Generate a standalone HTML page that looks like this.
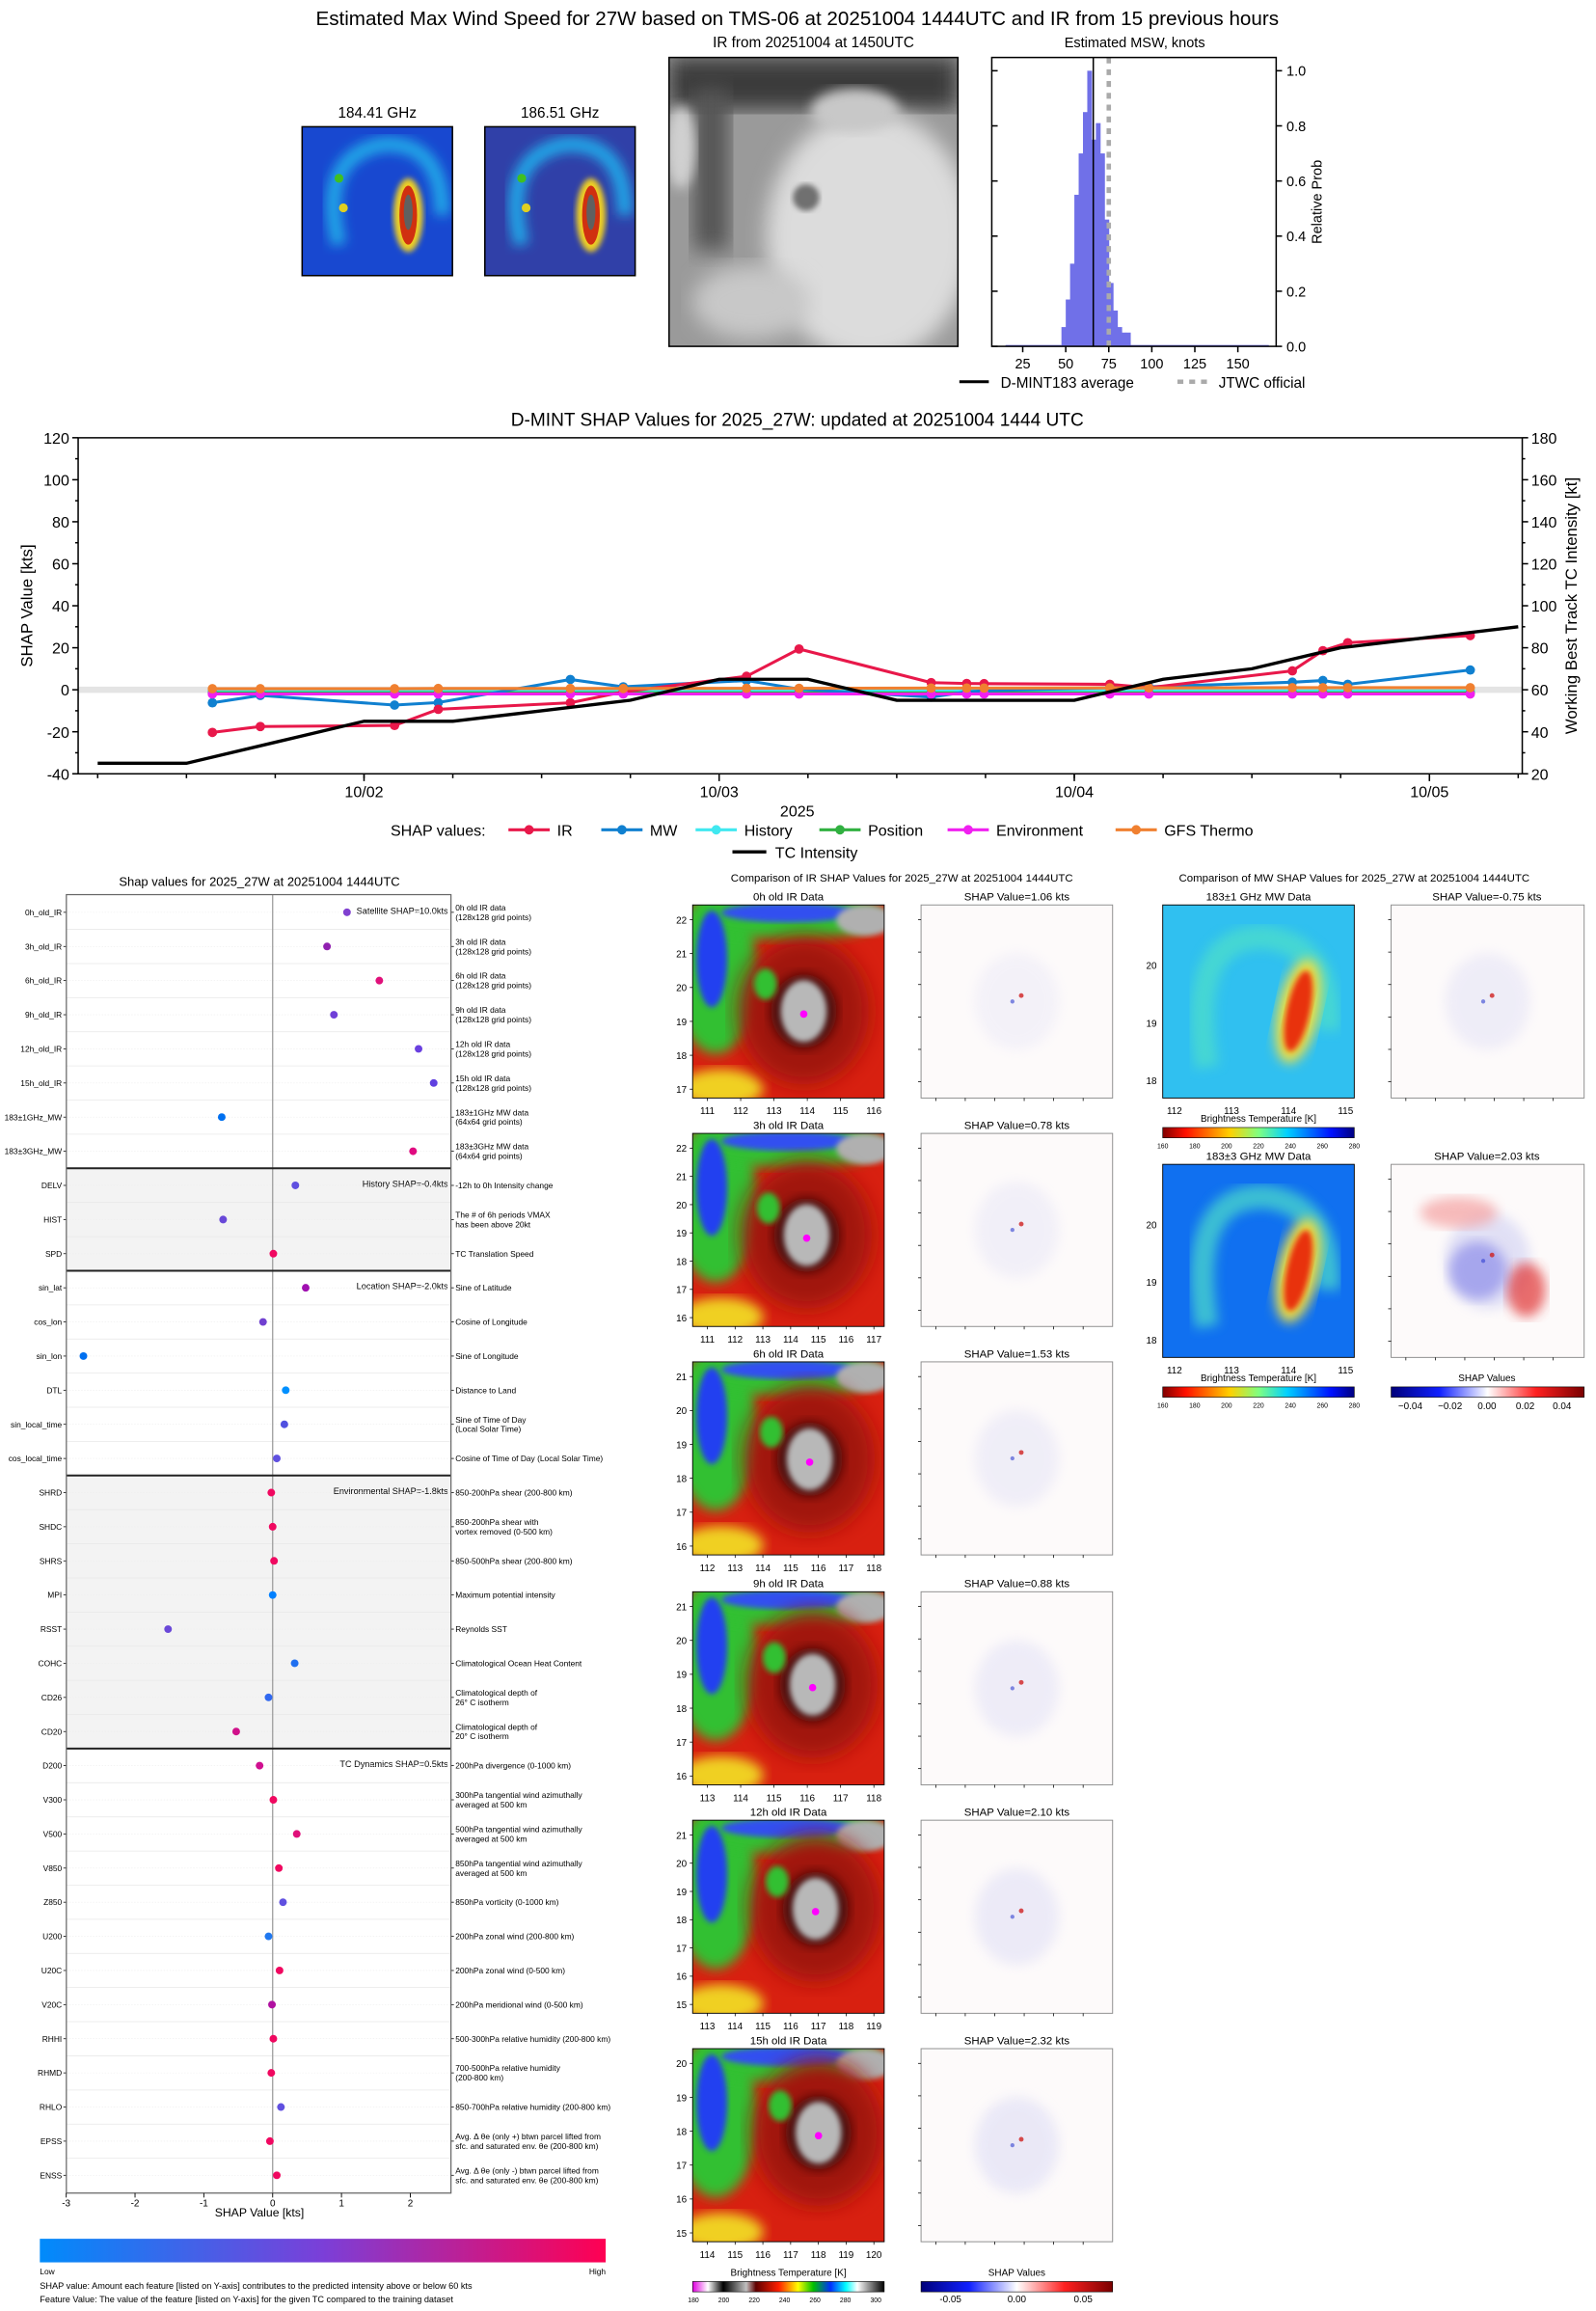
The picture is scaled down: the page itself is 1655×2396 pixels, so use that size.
<!DOCTYPE html>
<html><head><meta charset="utf-8"><style>
html,body{margin:0;padding:0;background:#fff}
svg{display:block;font-family:"Liberation Sans","DejaVu Sans",sans-serif}
</style></head><body>
<svg id="root" xmlns="http://www.w3.org/2000/svg" width="1655" height="2396" viewBox="0 0 1083 1568">
<defs>
<filter id="b2"><feGaussianBlur stdDeviation="2"/></filter>
<filter id="b4"><feGaussianBlur stdDeviation="4"/></filter>
<filter id="b7"><feGaussianBlur stdDeviation="7"/></filter>
<linearGradient id="shapcb" x1="0" x2="1"><stop offset="0" stop-color="#008bfb"/><stop offset="0.5" stop-color="#7b3fd8"/><stop offset="1" stop-color="#ff0052"/></linearGradient>
<linearGradient id="jetr" x1="0" x2="1"><stop offset="0" stop-color="#800000"/><stop offset="0.12" stop-color="#ff1000"/><stop offset="0.35" stop-color="#ffd000"/><stop offset="0.5" stop-color="#80ff80"/><stop offset="0.65" stop-color="#00d0ff"/><stop offset="0.88" stop-color="#0010ff"/><stop offset="1" stop-color="#000080"/></linearGradient>
<linearGradient id="bwr" x1="0" x2="1"><stop offset="0" stop-color="#00007a"/><stop offset="0.25" stop-color="#1020ff"/><stop offset="0.5" stop-color="#ffffff"/><stop offset="0.75" stop-color="#ff2020"/><stop offset="1" stop-color="#7a0000"/></linearGradient>
<linearGradient id="ircb" x1="0" x2="1"><stop offset="0" stop-color="#e000e0"/><stop offset="0.08" stop-color="#ffffff"/><stop offset="0.16" stop-color="#000000"/><stop offset="0.28" stop-color="#c0c0c0"/><stop offset="0.33" stop-color="#600000"/><stop offset="0.45" stop-color="#ff2000"/><stop offset="0.55" stop-color="#ffff00"/><stop offset="0.63" stop-color="#00c000"/><stop offset="0.72" stop-color="#0030ff"/><stop offset="0.8" stop-color="#00ffff"/><stop offset="0.86" stop-color="#ffffff"/><stop offset="1" stop-color="#000000"/></linearGradient>
</defs>
<g id="g"></g>
</svg>
<script>
// ---------- data ----------
const histBinStart = [47.5,50,52.5,55,57.5,60,62.5,65,67.5,70,72.5,75,77.5,80,82.5,85];
const histProb = [0.07,0.17,0.30,0.55,0.70,0.85,1.0,0.75,0.81,0.70,0.46,0.23,0.13,0.07,0.05,0.05];
const histMean = 66;
const jtwcOfficial = 75;
const histTicks = [25,50,75,100,125,150];
const histYTicks = [0,0.2,0.4,0.6,0.8,1.0];

const shapDays = [-0.427,-0.292,0.086,0.209,0.581,0.73,1.077,1.225,1.597,1.697,1.746,2.1,2.21,2.614,2.70,2.77,3.115];
const irShap = [-20.3,-17.5,-17,-9.3,-6.2,-1,6.4,19.4,3.4,3,2.9,2.6,1,9,18.6,22.4,25.8];
const mwShap = [-6.2,-2.7,-7.3,-6.1,4.9,1.4,4.4,0.3,-3.5,-1,-0.5,1,1.4,3.6,4.4,2.6,9.4];
const historyShap = [-0.5,-0.5,-0.5,-0.5,-0.5,-0.5,-0.5,-0.5,-0.5,-0.5,-0.5,-0.5,-0.5,-0.5,-0.5,-0.5,-0.5];
const positionShap = [-1.5,-1.5,-1.5,-1.5,-1.5,-1.5,-1.5,-1.5,-1.5,-1.5,-1.5,-1.5,-1.5,-1.5,-1.5,-1.5,-1.5];
const envShap = [-2,-2,-2,-2,-2,-2,-2,-2,-2,-2,-2,-2,-2,-2,-2,-2,-2];
const gfsShap = [0.5,0.5,0.5,0.6,0.6,0.6,0.7,0.7,0.8,0.8,0.8,0.9,0.9,1,1,1,1];
const intensityDays = [-0.75,-0.5,-0.25,0,0.25,0.5,0.75,1.0,1.25,1.5,1.75,2.0,2.25,2.5,2.75,3.0,3.25];
const intensityKt = [25,25,35,45,45,50,55,65,65,55,55,55,65,70,80,85,90];
const leftTicks = [-40,-20,0,20,40,60,80,100,120];
const rightTicks = [20,40,60,80,100,120,140,160,180];
const dateLabels = ['10/02','10/03','10/04','10/05'];

const featNames = ['0h_old_IR','3h_old_IR','6h_old_IR','9h_old_IR','12h_old_IR','15h_old_IR','183±1GHz_MW','183±3GHz_MW','DELV','HIST','SPD','sin_lat','cos_lon','sin_lon','DTL','sin_local_time','cos_local_time','SHRD','SHDC','SHRS','MPI','RSST','COHC','CD26','CD20','D200','V300','V500','V850','Z850','U200','U20C','V20C','RHHI','RHMD','RHLO','EPSS','ENSS'];
const featShap = [1.08,0.79,1.55,0.89,2.12,2.34,-0.74,2.04,0.33,-0.72,0.01,0.48,-0.14,-2.75,0.19,0.17,0.06,-0.02,0.0,0.02,0.0,-1.52,0.32,-0.06,-0.53,-0.19,0.01,0.35,0.09,0.15,-0.06,0.1,-0.01,0.01,-0.02,0.12,-0.04,0.06];
const featColor = ['#8040d0','#9020b0','#e0107a','#7040d8','#6a40e0','#6040e0','#0070f0','#e00a80','#6050e0','#6848d8','#f00860','#a010b0','#7040d0','#0070f0','#0090ff','#5050e0','#6050e0','#f00860','#f00860','#f00860','#0080ff','#6a48d8','#2070f0','#3068f0','#d0108a','#d01090','#f00860','#e0107a','#f00860','#6050e0','#2078f0','#f00860','#b010a0','#f00860','#f00860','#6050e0','#f00860','#f00860'];
const featDesc = ['0h old IR data|(128x128 grid points)','3h old IR data|(128x128 grid points)','6h old IR data|(128x128 grid points)','9h old IR data|(128x128 grid points)','12h old IR data|(128x128 grid points)','15h old IR data|(128x128 grid points)','183±1GHz MW data|(64x64 grid points)','183±3GHz MW data|(64x64 grid points)','-12h to 0h Intensity change','The # of 6h periods VMAX|has been above 20kt','TC Translation Speed','Sine of Latitude','Cosine of Longitude','Sine of Longitude','Distance to Land','Sine of Time of Day|(Local Solar Time)','Cosine of Time of Day (Local Solar Time)','850-200hPa shear (200-800 km)','850-200hPa shear with|vortex removed (0-500 km)','850-500hPa shear (200-800 km)','Maximum potential intensity','Reynolds SST','Climatological Ocean Heat Content','Climatological depth of|26° C isotherm','Climatological depth of|20° C isotherm','200hPa divergence (0-1000 km)','300hPa tangential wind azimuthally|averaged at 500 km','500hPa tangential wind azimuthally|averaged at 500 km','850hPa tangential wind azimuthally|averaged at 500 km','850hPa vorticity (0-1000 km)','200hPa zonal wind (200-800 km)','200hPa zonal wind (0-500 km)','200hPa meridional wind (0-500 km)','500-300hPa relative humidity (200-800 km)','700-500hPa relative humidity|(200-800 km)','850-700hPa relative humidity (200-800 km)','Avg. Δ θe (only +) btwn parcel lifted from|sfc. and saturated env. θe (200-800 km)','Avg. Δ θe (only -) btwn parcel lifted from|sfc. and saturated env. θe (200-800 km)'];
const sections = [{start:0,label:'Satellite SHAP=10.0kts',shade:false},{start:8,label:'History SHAP=-0.4kts',shade:true},{start:11,label:'Location SHAP=-2.0kts',shade:false},{start:17,label:'Environmental SHAP=-1.8kts',shade:true},{start:25,label:'TC Dynamics SHAP=0.5kts',shade:false}];
const dotTicks = [-3,-2,-1,0,1,2];

const irTitles = ['0h old IR Data','3h old IR Data','6h old IR Data','9h old IR Data','12h old IR Data','15h old IR Data'];
const irShapVals = ['1.06','0.78','1.53','0.88','2.10','2.32'];
const irYTickVals = [[22,21,20,19,18,17],[22,21,20,19,18,17,16],[21,20,19,18,17,16],[21,20,19,18,17,16],[21,20,19,18,17,16,15],[20,19,18,17,16,15]];
const irXTickVals = [[111,112,113,114,115,116],[111,112,113,114,115,116,117],[112,113,114,115,116,117,118],[113,114,115,116,117,118],[113,114,115,116,117,118,119],[114,115,116,117,118,119,120]];

// ---------- helpers ----------
const NS='http://www.w3.org/2000/svg';
const G=document.getElementById('g');
function el(tag,attrs,parent){const e=document.createElementNS(NS,tag);for(const k in attrs)e.setAttribute(k,attrs[k]);(parent||G).appendChild(e);return e;}
function txt(x,y,s,size,anchor,parent,extra){const t=el('text',Object.assign({x:x,y:y,'font-size':size,'text-anchor':anchor||'start',fill:'#000'},extra||{}),parent);t.textContent=s;return t;}
function grp(name,parent){const g=el('g',{},parent);return g;}

let t=txt(541,17,'Estimated Max Wind Speed for 27W based on TMS-06 at 20251004 1444UTC and IR from 15 previous hours',13.5,'middle');



function mwSmall(x,y,name,title,bg){
  const g=grp(name);
  txt(x+51,y-6,title,10,'middle',g);
  const cid='c'+name;const cp=el('clipPath',{id:cid},g);el('rect',{x:x,y:y,width:102,height:101},cp);
  const ig=el('g',{'clip-path':'url(#'+cid+')'},g);
  el('rect',{x:x,y:y,width:102,height:101,fill:bg},ig);
  el('path',{d:`M${x+25} ${y+80} Q${x+10} ${y+20} ${x+55} ${y+12} Q${x+95} ${y+10} ${x+95} ${y+60}`,fill:'none',stroke:'#20a8e8','stroke-width':10,filter:'url(#b4)'},ig);
  el('circle',{cx:x+25,cy:y+35,r:3,fill:'#40c020'},ig);
  el('circle',{cx:x+28,cy:y+55,r:3,fill:'#e0d020'},ig);
  el('ellipse',{cx:x+72,cy:y+60,rx:10,ry:25,fill:'#f0d020',filter:'url(#b2)'},ig);
  el('ellipse',{cx:x+72,cy:y+60,rx:6,ry:20,fill:'#d03010'},ig);
  el('ellipse',{cx:x+72,cy:y+58,rx:3,ry:12,fill:'#606060'},ig);
  el('rect',{x:x,y:y,width:102,height:101,fill:'none',stroke:'#000','stroke-width':1},g);
}
mwSmall(205,86,'mw-184-image','184.41 GHz','#1848d0');
mwSmall(329,86,'mw-186-image','186.51 GHz','#3040a8');

(function(){
  const g=grp('ir-gray-image');
  txt(552,32,'IR from 20251004 at 1450UTC',10,'middle',g);
  const cp=el('clipPath',{id:'cgray'},g);el('rect',{x:454,y:39,width:196,height:196},cp);
  const ig=el('g',{'clip-path':'url(#cgray)'},g);
  el('rect',{x:454,y:39,width:196,height:196,fill:'#9a9a9a'},ig);
  el('rect',{x:454,y:39,width:196,height:35,fill:'#3a3a3a',filter:'url(#b7)'},ig);
  el('rect',{x:470,y:60,width:25,height:110,fill:'#555',filter:'url(#b7)'},ig);
  el('ellipse',{cx:590,cy:160,rx:70,ry:85,fill:'#dcdcdc',filter:'url(#b7)'},ig);
  el('ellipse',{cx:580,cy:75,rx:30,ry:15,fill:'#c8c8c8',filter:'url(#b4)'},ig);
  el('ellipse',{cx:510,cy:205,rx:40,ry:25,fill:'#c8c8c8',filter:'url(#b7)'},ig);
  el('ellipse',{cx:462,cy:100,rx:10,ry:28,fill:'#d0d0d0',filter:'url(#b4)'},ig);
  el('ellipse',{cx:547,cy:134,rx:9,ry:9,fill:'#707070',filter:'url(#b2)'},ig);
  el('rect',{x:454,y:39,width:196,height:196,fill:'none',stroke:'#000','stroke-width':1},g);
})();

(function(){
  const g=grp('msw-histogram');
  const X=k=>694+(k-25)*1.168, Y=p=>235-p*187;
  txt(770,32,'Estimated MSW, knots',9.5,'middle',g);
  const b=el('rect',{x:X(15),y:Y(0.005),width:X(47.5)-X(15),height:Y(0)-Y(0.005),fill:'#7070e8'},g);
  
  
  for(let i=0;i<histBinStart.length;i++){
    const r=el('rect',{x:X(histBinStart[i]),y:Y(histProb[i]),width:X(histBinStart[i]+2.5)-X(histBinStart[i])+0.3,height:Y(0)-Y(histProb[i]),fill:'#7070e8'},g);
    
    
  }
  el('rect',{x:X(87.5),y:Y(0.005),width:X(168)-X(87.5),height:Y(0)-Y(0.005),fill:'#7070e8'},g);
  const m=el('line',{x1:X(histMean),x2:X(histMean),y1:39,y2:235,stroke:'#000','stroke-width':1},g);
  
  
  const j=el('line',{x1:X(jtwcOfficial),x2:X(jtwcOfficial),y1:39,y2:235,stroke:'#aaa','stroke-width':3,'stroke-dasharray':'4 4'},g);
  
  
  el('rect',{x:673,y:39,width:193,height:196,fill:'none',stroke:'#000','stroke-width':1},g);
  histTicks.forEach(k=>{el('line',{x1:X(k),x2:X(k),y1:235,y2:239,stroke:'#000'},g);txt(X(k),250,String(k),9.5,'middle',g);});
  histYTicks.forEach(p=>{el('line',{x1:866,x2:870,y1:Y(p),y2:Y(p),stroke:'#000'},g);el('line',{x1:673,x2:677,y1:Y(p),y2:Y(p),stroke:'#000'},g);txt(873,Y(p)+3.5,p.toFixed(1),9.5,'start',g);});
  txt(897,137,'Relative Prob',9.5,'middle',g,{transform:'rotate(-90 897 137)'});
  const lg=grp('histogram-legend');
  el('line',{x1:651,x2:671,y1:259,y2:259,stroke:'#000','stroke-width':2},lg);
  txt(679,263,'D-MINT183 average',10,'start',lg);
  el('line',{x1:799,x2:820,y1:259,y2:259,stroke:'#aaa','stroke-width':3,'stroke-dasharray':'4 4'},lg);
  txt(827,263,'JTWC official',10,'start',lg);
})();

(function(){
  const g=grp('shap-timeseries-chart');
  const X=d=>247+241*d, Y=v=>525-(v+40)*1.425, YR=k=>525-(k-20)*1.425;
  txt(541,289,'D-MINT SHAP Values for 2025_27W: updated at 20251004 1444 UTC',12.5,'middle',g);
  el('rect',{x:53,y:Y(1.5),width:980,height:Y(-1.5)-Y(1.5),fill:'#e4e4e4'},g);
  leftTicks.forEach(v=>{el('line',{x1:49,x2:53,y1:Y(v),y2:Y(v),stroke:'#000'},g);txt(47,Y(v)+4,String(v),10.5,'end',g);});
  for(let v=-30;v<120;v+=20)el('line',{x1:51,x2:53,y1:Y(v),y2:Y(v),stroke:'#000'},g);
  rightTicks.forEach(k=>{el('line',{x1:1033,x2:1037,y1:YR(k),y2:YR(k),stroke:'#000'},g);txt(1039,YR(k)+4,String(k),10.5,'start',g);});
  for(let k=30;k<180;k+=20)el('line',{x1:1033,x2:1035,y1:YR(k),y2:YR(k),stroke:'#000'},g);
  for(let d=-0.75;d<=3.26;d+=0.25)el('line',{x1:X(d),x2:X(d),y1:525,y2:528,stroke:'#000'},g);
  dateLabels.forEach((s,i)=>{el('line',{x1:X(i),x2:X(i),y1:525,y2:530,stroke:'#000'},g);txt(X(i),541,s,10.5,'middle',g);});
  txt(541,554,'2025',10.5,'middle',g);
  txt(22,411,'SHAP Value [kts]',11,'middle',g,{transform:'rotate(-90 22 411)'});
  txt(1070,411,'Working Best Track TC Intensity [kt]',11,'middle',g,{transform:'rotate(-90 1070 411)'});
  const series=[['ir',irShap,'#e8184a'],['mw',mwShap,'#1080d0'],['history',historyShap,'#40e8f0'],['position',positionShap,'#30b040'],['environment',envShap,'#f020f0'],['gfs-thermo',gfsShap,'#f08030']];
  const order=[2,3,1,0,4,5];
  order.forEach(si=>{
    const [nm,vals,col]=series[si];
    const sg=grp('series-'+nm,g);
    const pts=shapDays.map((d,i)=>X(d)+','+Y(vals[i])).join(' ');
    el('polyline',{points:pts,fill:'none',stroke:col,'stroke-width':2},sg);
    shapDays.forEach((d,i)=>{const c=el('circle',{cx:X(d),cy:Y(vals[i]),r:3.2,fill:col},sg);
      
      });
  });
  const ig=grp('series-tc-intensity',g);
  el('polyline',{points:intensityDays.map((d,i)=>X(d)+','+YR(intensityKt[i])).join(' '),fill:'none',stroke:'#000','stroke-width':2.2},ig);
  el('line',{x1:53,x2:1033,y1:297,y2:297,stroke:'#000'},g);
  el('line',{x1:53,x2:1033,y1:525,y2:525,stroke:'#000'},g);
  el('line',{x1:53,x2:53,y1:297,y2:525,stroke:'#000'},g);
  el('line',{x1:1033,x2:1033,y1:297,y2:525,stroke:'#000'},g);
  const lg=grp('timeseries-legend',g);
  txt(265,567,'SHAP values:',10.5,'start',lg);
  const ent=[['IR','#e8184a',345],['MW','#1080d0',408],['History','#40e8f0',472],['Position','#30b040',556],['Environment','#f020f0',643],['GFS Thermo','#f08030',757]];
  ent.forEach(([s,c,x])=>{const eg=grp('legend-entry-'+s.toLowerCase().replace(' ','-'),lg);el('line',{x1:x,x2:x+28,y1:563,y2:563,stroke:c,'stroke-width':2},eg);el('circle',{cx:x+14,cy:563,r:3.2,fill:c},eg);txt(x+33,567,s,10.5,'start',eg);});
  const te=grp('legend-entry-tc-intensity',lg);
  el('line',{x1:497,x2:520,y1:578,y2:578,stroke:'#000','stroke-width':2.2},te);
  txt(526,582,'TC Intensity',10.5,'start',te);
})();

(function(){
  const g=grp('feature-shap-dotplot');
  const X=v=>185+v*46.7, R=i=>619+i*23.16;
  txt(176,601,'Shap values for 2025_27W at 20251004 1444UTC',8.5,'middle',g);
  sections.forEach((s,si)=>{
    const end=si<sections.length-1?sections[si+1].start:featNames.length;
    const y0=si==0?607:R(s.start)-11.58, y1=si==sections.length-1?1488:R(end)-11.58;
    if(s.shade)el('rect',{x:45,y:y0,width:261,height:y1-y0,fill:'#f3f3f3'},g);
    const l=txt(304,R(s.start)+1,s.label,6,'end',g);
    
    
  });
  featNames.forEach((n,i)=>{
    el('line',{x1:45,x2:306,y1:R(i)+11.58,y2:R(i)+11.58,stroke:'#e8e8e8','stroke-width':0.5},g);
    el('line',{x1:45,x2:306,y1:R(i),y2:R(i),stroke:'#eee','stroke-width':0.4,'stroke-dasharray':'1 1'},g);
  });
  el('line',{x1:X(0),x2:X(0),y1:607,y2:1488,stroke:'#999','stroke-width':0.8},g);
  sections.forEach((s,si)=>{if(si>0)el('line',{x1:45,x2:306,y1:R(s.start)-11.58,y2:R(s.start)-11.58,stroke:'#222','stroke-width':1.3},g);});
  featNames.forEach((n,i)=>{
    el('line',{x1:43,x2:45,y1:R(i),y2:R(i),stroke:'#000','stroke-width':0.5},g);
    txt(42,R(i)+2,n,5.5,'end',g);
    el('line',{x1:306,x2:308,y1:R(i),y2:R(i),stroke:'#000','stroke-width':0.5},g);
    const lines=featDesc[i].split('|');
    lines.forEach((ln,k)=>txt(309,R(i)+2+(k-(lines.length-1)/2)*6.5,ln,5.5,'start',g));
    const c=el('circle',{cx:X(featShap[i]),cy:R(i),r:2.6,fill:featColor[i]},g);
    
    
  });
  el('rect',{x:45,y:607,width:261,height:881,fill:'none',stroke:'#666','stroke-width':0.8},g);
  dotTicks.forEach(v=>{el('line',{x1:X(v),x2:X(v),y1:1488,y2:1491,stroke:'#000','stroke-width':0.6},g);txt(X(v),1497,String(v),6.5,'middle',g);});
  txt(176,1504,'SHAP Value [kts]',8,'middle',g);
  const cb=grp('feature-value-colorbar');
  el('rect',{x:27,y:1519,width:384,height:16,fill:'url(#shapcb)'},cb);
  txt(27,1543,'Low',5.5,'start',cb);txt(411,1543,'High',5.5,'end',cb);
  txt(27,1553,'SHAP value: Amount each feature [listed on Y-axis] contributes to the predicted intensity above or below 60 kts',6,'start',cb);
  txt(27,1562,'Feature Value: The value of the feature [listed on Y-axis] for the given TC compared to the training dataset',6,'start',cb);
})();

function irPanel(x,y,w,h,row,name){
  const g=grp(name);
  const cid='clip-'+name;const cp=el('clipPath',{id:cid},g);el('rect',{x:x,y:y,width:w,height:h},cp);
  const ig=el('g',{'clip-path':'url(#'+cid+')'},g);
  const cx=x+w*0.58+row*2, cy=y+h*0.55-row*3;
  el('rect',{x:x,y:y,width:w,height:h,fill:'#d82010'},ig);
  el('ellipse',{cx:x+w*0.12,cy:y+h*0.35,rx:w*0.22,ry:h*0.42,fill:'#30c030',filter:'url(#b4)'},ig);
  el('ellipse',{cx:x+w*0.5,cy:y+h*0.06,rx:w*0.5,ry:h*0.12,fill:'#30c030',filter:'url(#b4)'},ig);
  el('ellipse',{cx:x+w*0.1,cy:y+h*0.28,rx:w*0.08,ry:h*0.25,fill:'#2040f0',filter:'url(#b2)'},ig);
  el('ellipse',{cx:x+w*0.5,cy:y+h*0.04,rx:w*0.35,ry:h*0.05,fill:'#3050f0',filter:'url(#b2)'},ig);
  el('ellipse',{cx:x+w*0.9,cy:y+h*0.08,rx:w*0.15,ry:h*0.08,fill:'#b0b0b0',filter:'url(#b2)'},ig);
  el('ellipse',{cx:x+w*0.15,cy:y+h*0.95,rx:w*0.22,ry:h*0.1,fill:'#f0d020',filter:'url(#b4)'},ig);
  el('ellipse',{cx:cx,cy:cy,rx:w*0.34,ry:h*0.38,fill:'#a01810',filter:'url(#b7)'},ig);
  el('ellipse',{cx:cx,cy:cy,rx:w*0.17,ry:h*0.19,fill:'#401010',filter:'url(#b4)'},ig);
  el('ellipse',{cx:cx,cy:cy,rx:w*0.12,ry:h*0.16,fill:'#b8b8b8',filter:'url(#b2)'},ig);
  el('ellipse',{cx:cx-w*0.2,cy:cy-h*0.14,rx:w*0.06,ry:h*0.08,fill:'#30c030',filter:'url(#b2)'},ig);
  el('circle',{cx:cx,cy:cy+2,r:2.5,fill:'#ff00ff'},ig);
  el('rect',{x:x,y:y,width:w,height:h,fill:'none',stroke:'#000','stroke-width':0.6},g);
}
function shapPanel(x,y,w,h,name,strength){
  const g=grp(name);
  el('rect',{x:x,y:y,width:w,height:h,fill:'#fdfafa',stroke:'#888','stroke-width':0.6},g);
  const cx=x+w*0.5,cy=y+h*0.5;
  el('ellipse',{cx:cx,cy:cy,rx:w*0.22,ry:h*0.25,fill:'#d8d8f4',opacity:Math.min(0.9,0.25*strength),filter:'url(#b4)'},g);
  if(strength>2){
    el('ellipse',{cx:cx-w*0.15,cy:cy-h*0.25,rx:w*0.2,ry:h*0.08,fill:'#f4a0a0',opacity:0.7,filter:'url(#b4)'},g);
    el('ellipse',{cx:cx+w*0.2,cy:cy+h*0.15,rx:w*0.1,ry:h*0.14,fill:'#e03030',opacity:0.7,filter:'url(#b4)'},g);
    el('ellipse',{cx:cx-w*0.05,cy:cy+h*0.05,rx:w*0.15,ry:h*0.15,fill:'#8080e8',opacity:0.6,filter:'url(#b4)'},g);
  }
  el('circle',{cx:cx+3,cy:cy-4,r:1.6,fill:'#d02020',opacity:0.8},g);
  el('circle',{cx:cx-3,cy:cy,r:1.4,fill:'#3040d0',opacity:0.6},g);
  for(let i=0;i<6;i++){el('line',{x1:x-2,x2:x,y1:y+10+i*22,y2:y+10+i*22,stroke:'#000','stroke-width':0.5},g);el('line',{x1:x+10+i*20,x2:x+10+i*20,y1:y+h,y2:y+h+2,stroke:'#000','stroke-width':0.5},g);}
}
(function(){
  const g=grp('ir-comparison-section');
  txt(612,598,'Comparison of IR SHAP Values for 2025_27W at 20251004 1444UTC',7.5,'middle',g);
  const tops=[614,769,924,1080,1235,1390];
  tops.forEach((y,r)=>{
    irPanel(470,y,130,131,r,'ir-image-'+r);
    txt(535,y-3,irTitles[r],7.5,'middle',g);
    const yt=irYTickVals[r], xt=irXTickVals[r];
    yt.forEach((v,i)=>{const yy=y+10+i*(115/(yt.length-1));txt(466,yy+2.5,String(v),6.5,'end',g);el('line',{x1:468,x2:470,y1:yy,y2:yy,stroke:'#000','stroke-width':0.5},g);});
    xt.forEach((v,i)=>{const xx=480+i*(113/(xt.length-1));txt(xx,y+142,String(v),6.5,'middle',g);el('line',{x1:xx,x2:xx,y1:y+131,y2:y+133,stroke:'#000','stroke-width':0.5},g);});
    shapPanel(625,y,130,131,'ir-shap-map-'+r,1+r*0.2);
    txt(690,y-3,'SHAP Value='+irShapVals[r]+' kts',7.5,'middle',g);
  });
  const c1=grp('ir-temp-colorbar',g);
  txt(535,1544,'Brightness Temperature [K]',6.5,'middle',c1);
  el('rect',{x:470,y:1548,width:130,height:7,fill:'url(#ircb)',stroke:'#000','stroke-width':0.4},c1);
  [180,200,220,240,260,280,300].forEach((v,i)=>txt(470+i*(130/6.3)+0.5,1562,String(v),4.5,'middle',c1));
  const c2=grp('ir-shap-colorbar',g);
  txt(690,1544,'SHAP Values',6.5,'middle',c2);
  el('rect',{x:625,y:1548,width:130,height:7,fill:'url(#bwr)',stroke:'#000','stroke-width':0.4},c2);
  [['-0.05',645],['0.00',690],['0.05',735]].forEach(([s,xx])=>txt(xx,1562,s,6.5,'middle',c2));
})();
function mwPanel(x,y,name,bg){
  const g=grp(name);
  const cid='clip-'+name;const cp=el('clipPath',{id:cid},g);el('rect',{x:x,y:y,width:130,height:131},cp);
  const ig=el('g',{'clip-path':'url(#'+cid+')'},g);
  el('rect',{x:x,y:y,width:130,height:131,fill:bg},ig);
  el('path',{d:`M${x+30} ${y+110} Q${x+15} ${y+20} ${x+70} ${y+22} Q${x+115} ${y+28} ${x+112} ${y+85}`,fill:'none',stroke:'#50e0c8','stroke-width':16,filter:'url(#b4)',opacity:0.7},ig);
  el('ellipse',{cx:x+92,cy:y+72,rx:14,ry:36,fill:'#f0e040',filter:'url(#b4)',transform:`rotate(12 ${x+92} ${y+72})`},ig);
  el('ellipse',{cx:x+92,cy:y+72,rx:8,ry:28,fill:'#e83010',filter:'url(#b2)',transform:`rotate(12 ${x+92} ${y+72})`},ig);
  el('rect',{x:x,y:y,width:130,height:131,fill:'none',stroke:'#000','stroke-width':0.6},g);
}
(function(){
  const g=grp('mw-comparison-section');
  txt(919,598,'Comparison of MW SHAP Values for 2025_27W at 20251004 1444UTC',7.5,'middle',g);
  [[614,'183±1 GHz MW Data','#30c0f0','-0.75'],[790,'183±3 GHz MW Data','#1070f0','2.03']].forEach(([y,tl,bg,sv],r)=>{
    mwPanel(789,y,'mw-image-'+r,bg);
    txt(854,y-3,tl,7.5,'middle',g);
    [20,19,18].forEach((v,i)=>{const yy=y+41+i*39;txt(785,yy+2.5,String(v),6.5,'end',g);});
    [112,113,114,115].forEach((v,i)=>txt(797+i*38.7,y+142,String(v),6.5,'middle',g));
    shapPanel(944,y,131,131,'mw-shap-map-'+r,r?3:1.5);
    txt(1009,y-3,'SHAP Value='+sv+' kts',7.5,'middle',g);
    const cb=grp('mw-temp-colorbar-'+r,g);
    txt(854,y+147,'Brightness Temperature [K]',6.5,'middle',cb);
    el('rect',{x:789,y:y+151,width:130,height:7,fill:'url(#jetr)',stroke:'#000','stroke-width':0.4},cb);
    [160,180,200,220,240,260,280].forEach((v,i)=>txt(789+i*(130/6),y+165,String(v),4.5,'middle',cb));
  });
  const c2=grp('mw-shap-colorbar',g);
  txt(1009,937,'SHAP Values',6.5,'middle',c2);
  el('rect',{x:944,y:941,width:131,height:7,fill:'url(#bwr)',stroke:'#000','stroke-width':0.4},c2);
  [['−0.04',957],['−0.02',984],['0.00',1009],['0.02',1035],['0.04',1060]].forEach(([s,xx])=>txt(xx,956,s,6.5,'middle',c2));
})();
</script>
</body></html>
